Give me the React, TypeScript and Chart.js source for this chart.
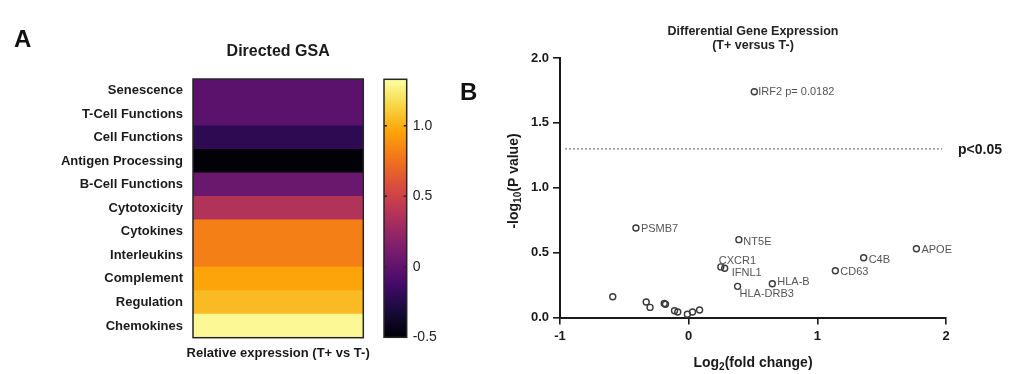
import React, { useEffect, useRef } from 'react';
import { Chart, registerables } from 'chart.js';

Chart.register(...registerables);

const FONT = '"Liberation Sans", Arial, Helvetica, sans-serif';
const INK = '#1a1a1a';

// ---------- Panel A data ----------
const gsaCategories = [
  'Senescence',
  'T-Cell Functions',
  'Cell Functions',
  'Antigen Processing',
  'B-Cell Functions',
  'Cytotoxicity',
  'Cytokines',
  'Interleukins',
  'Complement',
  'Regulation',
  'Chemokines',
];
const gsaScores = [-0.02, -0.02, -0.22, -0.49, 0.05, 0.37, 0.81, 0.81, 0.96, 1.04, 1.3];
const colorbarMin = -0.5;
const colorbarMax = 1.33;
const colorbarTicks = [-0.5, 0, 0.5, 1.0];

// ---------- Panel B data ----------
const geneLabels = [
  'IRF2 p= 0.0182',
  'PSMB7',
  'NT5E',
  'CXCR1',
  'IFNL1',
  'HLA-DRB3',
  'HLA-B',
  'CD63',
  'C4B',
  'APOE',
  '', '', '', '', '', '', '', '', '', '',
];
const geneLog2FC = [0.51, -0.41, 0.39, 0.25, 0.28, 0.38, 0.65, 1.14, 1.36, 1.77, -0.59, -0.33, -0.3, -0.19, -0.18, -0.11, -0.085, -0.01, 0.03, 0.085];
const geneNegLog10P = [1.74, 0.69, 0.6, 0.39, 0.38, 0.24, 0.26, 0.36, 0.46, 0.53, 0.16, 0.12, 0.078, 0.108, 0.102, 0.052, 0.042, 0.025, 0.042, 0.058];
const xTicksB = [-1, 0, 1, 2];
const yTicksB = [0, 0.5, 1.0, 1.5, 2.0];
const thresholdY = 1.3; // -log10(0.05)
const thresholdX = [-0.96, 1.97];

// label placement (style, px offsets from the point)
const labelOffsets: [number, number][] = [
  [4, 0.5], [5, 1], [4.5, 2], [-2, -6], [7, 5], [2, 7.5], [5, -1.5], [5, 1], [5, 2], [5, 1],
  [0, 0], [0, 0], [0, 0], [0, 0], [0, 0], [0, 0], [0, 0], [0, 0], [0, 0], [0, 0],
];

const INFERNO = ['#000004', '#160b39', '#420a68', '#6a176e', '#932667', '#bc3754', '#dd513a', '#f37819', '#fca50a', '#f6d746', '#fcffa4'];

function hexToRgb(h: string) {
  const n = parseInt(h.slice(1), 16);
  return [(n >> 16) & 255, (n >> 8) & 255, n & 255];
}
function inferno(t: number) {
  const c = Math.max(0, Math.min(1, t)) * 10;
  const i = Math.min(9, Math.floor(c));
  const f = c - i;
  const a = hexToRgb(INFERNO[i]);
  const b = hexToRgb(INFERNO[i + 1]);
  const m = a.map((v, k) => Math.round(v + (b[k] - v) * f));
  return `rgb(${m[0]},${m[1]},${m[2]})`;
}

type Part = { t: string; sub?: boolean };
function drawRich(ctx: CanvasRenderingContext2D, parts: Part[], x: number, y: number, size: number, rotate = 0) {
  ctx.save();
  ctx.translate(x, y);
  if (rotate) ctx.rotate(rotate);
  ctx.fillStyle = INK;
  ctx.textBaseline = 'middle';
  ctx.textAlign = 'left';
  const subSize = size * 0.72;
  let total = 0;
  const widths = parts.map((p) => {
    ctx.font = `bold ${p.sub ? subSize : size}px ${FONT}`;
    const w = ctx.measureText(p.t).width;
    total += w;
    return w;
  });
  let cx = -total / 2;
  parts.forEach((p, i) => {
    ctx.font = `bold ${p.sub ? subSize : size}px ${FONT}`;
    ctx.fillText(p.t, cx, p.sub ? size * 0.32 : 0);
    cx += widths[i];
  });
  ctx.restore();
}

function drawText(ctx: CanvasRenderingContext2D, text: string, x: number, y: number, font: string, align: CanvasTextAlign, color = INK) {
  ctx.save();
  ctx.font = font;
  ctx.fillStyle = color;
  ctx.textAlign = align;
  ctx.textBaseline = 'middle';
  ctx.fillText(text, x, y);
  ctx.restore();
}

function HeatmapPanel() {
  const ref = useRef<HTMLCanvasElement>(null);
  useEffect(() => {
    if (!ref.current) return;
    const chart = new Chart(ref.current, {
      type: 'bar',
      data: {
        labels: gsaCategories,
        datasets: [
          {
            data: gsaScores.map(() => 1),
            backgroundColor: gsaScores.map((v) => inferno((v - colorbarMin) / (colorbarMax - colorbarMin))),
            borderWidth: 0,
            barPercentage: 1,
            categoryPercentage: 1,
            inflateAmount: 0.5,
          } as any,
        ],
      },
      options: {
        indexAxis: 'y',
        animation: false,
        responsive: false,
        devicePixelRatio: 1,
        events: [],
        layout: { padding: { left: 0, right: 6.7, top: 79, bottom: 36.3 } },
        plugins: { legend: { display: false }, tooltip: { enabled: false } },
        scales: {
          x: { display: false, min: 0, max: 1 },
          y: {
            grid: { display: false, drawTicks: false },
            border: { display: false },
            ticks: { color: INK, padding: 10, autoSkip: false, font: { family: FONT, size: 13, weight: 'bold' } },
            afterFit: (s: any) => {
              s.width = 193;
            },
          },
        },
      } as any,
      plugins: [
        {
          id: 'frameAndText',
          afterDatasetsDraw(c: any) {
            const { ctx, chartArea: a } = c;
            ctx.save();
            ctx.strokeStyle = '#262626';
            ctx.lineWidth = 1.5;
            ctx.strokeRect(a.left, a.top, a.right - a.left, a.bottom - a.top);
            ctx.restore();
            const cx = (a.left + a.right) / 2;
            drawText(ctx, 'A', 14, 40.5, `bold 24px ${FONT}`, 'left', '#111');
            drawText(ctx, 'Directed GSA', cx, 52, `bold 16px ${FONT}`, 'center');
            drawText(ctx, 'Relative expression (T+ vs T-)', cx, 353, `bold 13px ${FONT}`, 'center');
          },
        },
      ],
    });
    return () => chart.destroy();
  }, []);
  return <canvas ref={ref} width={370} height={374} style={{ position: 'absolute', left: 0, top: 0, width: 370, height: 374 }} />;
}

function ColorbarPanel() {
  const ref = useRef<HTMLCanvasElement>(null);
  useEffect(() => {
    if (!ref.current) return;
    const chart = new Chart(ref.current, {
      type: 'bar',
      data: {
        labels: [''],
        datasets: [
          {
            data: [[colorbarMin, colorbarMax]],
            backgroundColor: (ctx: any) => {
              const c = ctx.chart;
              if (!c.chartArea) return '#000';
              const y0 = c.scales.y.getPixelForValue(colorbarMin);
              const y1 = c.scales.y.getPixelForValue(colorbarMax);
              const g = c.ctx.createLinearGradient(0, y0, 0, y1);
              INFERNO.forEach((col, i) => g.addColorStop(i / 10, col));
              return g;
            },
            borderWidth: 0,
            barPercentage: 1,
            categoryPercentage: 1,
          } as any,
        ],
      },
      options: {
        animation: false,
        responsive: false,
        devicePixelRatio: 1,
        events: [],
        layout: { padding: { left: 14, right: 0, top: 79.3, bottom: 36.7 } },
        plugins: { legend: { display: false }, tooltip: { enabled: false } },
        scales: {
          x: { display: false },
          y: {
            position: 'right',
            min: colorbarMin,
            max: colorbarMax,
            afterBuildTicks: (s: any) => {
              s.ticks = colorbarTicks.map((v) => ({ value: v }));
            },
            grid: { display: false, drawTicks: false },
            border: { display: false },
            ticks: {
              color: '#222',
              padding: 6,
              font: { family: FONT, size: 14 },
              callback: (v: any) => (Number(v) === 0 ? '0' : Number(v).toFixed(1)),
            },
            afterFit: (s: any) => {
              s.width = 43.3;
            },
          },
        },
      } as any,
      plugins: [
        {
          id: 'cbFrame',
          afterDatasetsDraw(c: any) {
            const { ctx, chartArea: a } = c;
            ctx.save();
            ctx.strokeStyle = '#262626';
            ctx.lineWidth = 1.5;
            ctx.strokeRect(a.left, a.top, a.right - a.left, a.bottom - a.top);
            ctx.lineWidth = 1.5;
            colorbarTicks.forEach((v) => {
              if (v === colorbarMin) return;
              const y = c.scales.y.getPixelForValue(v);
              ctx.beginPath();
              ctx.moveTo(a.left, y);
              ctx.lineTo(a.left + 3, y);
              ctx.moveTo(a.right - 3, y);
              ctx.lineTo(a.right, y);
              ctx.stroke();
            });
            ctx.restore();
          },
        },
      ],
    });
    return () => chart.destroy();
  }, []);
  return <canvas ref={ref} width={80} height={374} style={{ position: 'absolute', left: 370, top: 0, width: 80, height: 374 }} />;
}

function VolcanoPanel() {
  const ref = useRef<HTMLCanvasElement>(null);
  useEffect(() => {
    if (!ref.current) return;
    const chart = new Chart(ref.current, {
      type: 'scatter',
      data: {
        datasets: [
          {
            data: geneLog2FC.map((x, i) => ({ x, y: geneNegLog10P[i] })),
            pointRadius: 3,
            pointBorderWidth: 1.4,
            borderColor: '#3a3a3a',
            backgroundColor: 'rgba(255,255,255,0)',
            clip: false,
          } as any,
          {
            type: 'line',
            data: thresholdX.map((x) => ({ x, y: thresholdY })),
            borderColor: '#8a8a8a',
            borderWidth: 1.6,
            borderDash: [1.6, 2.4],
            pointRadius: 0,
            fill: false,
          } as any,
        ],
      },
      options: {
        animation: false,
        responsive: false,
        devicePixelRatio: 1,
        events: [],
        layout: { padding: { left: 0, right: 65, top: 58, bottom: 0 } },
        plugins: { legend: { display: false }, tooltip: { enabled: false } },
        scales: {
          x: {
            type: 'linear',
            min: -1,
            max: 2,
            afterBuildTicks: (s: any) => {
              s.ticks = xTicksB.map((v) => ({ value: v }));
            },
            grid: { drawOnChartArea: false, drawTicks: true, tickLength: 7, color: INK, lineWidth: 1.6 },
            border: { display: true, color: INK, width: 2 },
            ticks: { color: INK, padding: 4, font: { family: FONT, size: 13, weight: 'bold' }, callback: (v: any) => String(v) },
            afterFit: (s: any) => {
              s.height = 56.5;
            },
          },
          y: {
            type: 'linear',
            min: 0,
            max: 2,
            afterBuildTicks: (s: any) => {
              s.ticks = yTicksB.map((v) => ({ value: v }));
            },
            grid: { drawOnChartArea: false, drawTicks: true, tickLength: 7, color: INK, lineWidth: 1.6 },
            border: { display: true, color: INK, width: 2 },
            ticks: { color: INK, padding: 4, font: { family: FONT, size: 13, weight: 'bold' }, callback: (v: any) => Number(v).toFixed(1) },
            afterFit: (s: any) => {
              s.width = 105;
            },
          },
        },
      } as any,
      plugins: [
        {
          id: 'volcanoText',
          afterDatasetsDraw(c: any) {
            const { ctx, chartArea: a } = c;
            const meta = c.getDatasetMeta(0);
            ctx.save();
            ctx.font = `11px ${FONT}`;
            ctx.fillStyle = '#555';
            ctx.textAlign = 'left';
            ctx.textBaseline = 'middle';
            meta.data.forEach((el: any, i: number) => {
              const t = geneLabels[i];
              if (!t) return;
              const [dx, dy] = labelOffsets[i];
              ctx.fillText(t, el.x + dx, el.y + dy);
            });
            ctx.restore();
            const cx = (a.left + a.right) / 2;
            drawText(ctx, 'B', 5, 93, `bold 24px ${FONT}`, 'left', '#111');
            drawText(ctx, 'Differential Gene Expression', cx, 31.7, `bold 12.5px ${FONT}`, 'center', '#222');
            drawText(ctx, '(T+ versus T-)', cx, 45.5, `bold 12.5px ${FONT}`, 'center', '#222');
            const ty = c.scales.y.getPixelForValue(thresholdY);
            drawText(ctx, 'p<0.05', a.right + 12, ty + 1.5, `bold 14px ${FONT}`, 'left');
            drawRich(ctx, [{ t: 'Log' }, { t: '2', sub: true }, { t: '(fold change)' }], cx, 363, 14);
            drawRich(ctx, [{ t: '-log' }, { t: '10', sub: true }, { t: '(P value)' }], 59, 181, 14, -Math.PI / 2);
          },
        },
      ],
    });
    return () => chart.destroy();
  }, []);
  return <canvas ref={ref} width={556} height={374} style={{ position: 'absolute', left: 455, top: 0, width: 556, height: 374 }} />;
}

export default function App() {
  return (
    <div style={{ position: 'absolute', left: 0, top: 0, width: 1011, height: 374, background: '#fff', overflow: 'hidden' }}>
      <HeatmapPanel />
      <ColorbarPanel />
      <VolcanoPanel />
    </div>
  );
}
